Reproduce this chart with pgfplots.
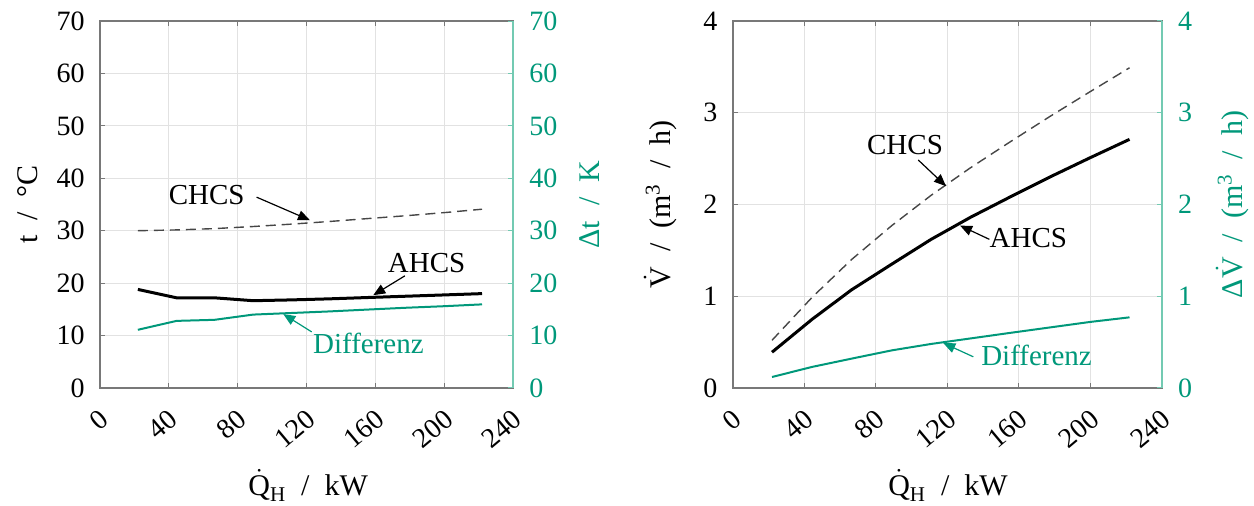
\documentclass[border=0pt]{standalone}
\usepackage{fontspec}
\setmainfont{Liberation Serif}
\usepackage{amsmath}
\usepackage{pgfplots}
\pgfplotsset{compat=1.18}
\usetikzlibrary{arrows.meta}
\definecolor{spine}{RGB}{120,120,120}
\definecolor{gridc}{RGB}{226,226,226}
\definecolor{grn}{RGB}{0,152,122}
\definecolor{grnspine}{RGB}{115,202,178}
\definecolor{dashc}{RGB}{70,70,70}

\tikzset{
  sAhcs/.style={black, line width=1.5pt, line join=round},
  sChcs/.style={dashc, line width=0.7pt, dash pattern=on 5pt off 3pt},
  sDiff/.style={grn, line width=1pt, line join=round},
  arr/.style={-{Triangle[length=6pt,width=5pt]}, line width=0.6pt},
  lab/.style={font=\fontsize{14.5}{16}\selectfont, inner sep=0pt, anchor=center},
}
\pgfplotsset{
  base/.style={
    scale only axis, anchor=south west, height=183.5pt,
    xmin=0, xmax=240,
    /pgf/number format/assume math mode=true,
    ticklabel style={font=\fontsize{14}{16}\selectfont},
    label style={font=\fontsize{15}{18}\selectfont},
    tick align=inside, major tick length=2.5pt,
  },
  mainax/.style={base,
    xtick={0,40,...,240}, grid=major,
    grid style={gridc, line width=0.5pt},
    axis line style={spine, line width=1pt},
    tick style={spine, line width=0.5pt},
    ytick pos=left,
    xticklabel style={inner sep=0pt, yshift=-13.5pt, xshift=2.5pt, rotate=40, anchor=east},
    yticklabel style={inner sep=0pt, xshift=-7.5pt},
    xlabel={$\dot{\text{Q}}_{\text{H}}$\enspace/\enspace kW},
    xlabel style={at={(axis description cs:0.504,-0.266)}, anchor=center},
  },
  twinax/.style={base,
    axis x line=none, axis y line*=right,
    y axis line style={grnspine, line width=1pt},
    ytick style={grnspine, line width=0.5pt},
    yticklabel style={grn, inner sep=0pt, xshift=8pt},
    ylabel style={grn, anchor=center},
  },
}

\begin{document}
\begin{tikzpicture}
\useasboundingbox (0,0) rectangle (627pt,253pt);

% left: temperatures
\begin{axis}[mainax, at={(50pt,59pt)}, width=206.5pt,
  ymin=0, ymax=70, ytick={0,10,...,70},
  ylabel={t\enspace/\enspace°C},
  ylabel style={at={(axis description cs:-0.174,0.5)}, anchor=center},
]
\addplot[sChcs] coordinates {(22,30.0) (44.5,30.15) (66.5,30.4) (89,30.8) (111,31.25) (133,31.75) (155,32.3) (177.5,32.85) (200,33.45) (222,34.1)};
\addplot[sAhcs] coordinates {(22,18.8) (44.5,17.2) (66.5,17.2) (89,16.65) (111,16.8) (133,17.0) (155,17.25) (177.5,17.5) (200,17.75) (222,18.0)};
\addplot[sDiff] coordinates {(22,11.1) (44.5,12.8) (66.5,13.0) (89,14.0) (111,14.3) (133,14.6) (155,14.95) (177.5,15.3) (200,15.6) (222,15.95)};
\node[lab] at (axis cs:62,36.8) {CHCS};
\draw[arr] (axis cs:91,36.4) -- (axis cs:122,32.0);
\node[lab] at (axis cs:189.8,23.8) {AHCS};
\draw[arr] (axis cs:177.2,21.4) -- (axis cs:158.8,17.7);
\node[lab, grn] at (axis cs:156,8.5) {Differenz};
\draw[arr, grn] (axis cs:123,10.7) -- (axis cs:106.5,14.1);
\end{axis}
\begin{axis}[twinax, at={(50pt,59pt)}, width=206.5pt,
  ymin=0, ymax=70, ytick={0,10,...,70},
  ylabel={Δt\enspace/\enspace K},
  ylabel style={at={(axis description cs:1.186,0.5)}},
]
\end{axis}

% right: volume flows
\begin{axis}[mainax, at={(366.35pt,59pt)}, width=214.5pt,
  ymin=0, ymax=4, ytick={0,1,...,4},
  ylabel={$\dot{\text{V}}$\enspace/\enspace(m\textsuperscript{3}\enspace/\enspace h)},
  ylabel style={at={(axis description cs:-0.169,0.5)}, anchor=center},
  xlabel style={at={(axis description cs:0.502,-0.266)}},
]
\addplot[sChcs] coordinates {(22,0.52) (44.5,0.99) (66.5,1.40) (89,1.77) (111,2.10) (133,2.40) (155,2.68) (177.5,2.96) (200,3.23) (222,3.49)};
\addplot[sAhcs] coordinates {(22,0.39) (44.5,0.75) (66.5,1.07) (89,1.35) (111,1.62) (133,1.86) (155,2.08) (177.5,2.30) (200,2.51) (222,2.71)};
\addplot[sDiff] coordinates {(22,0.12) (44.5,0.23) (66.5,0.32) (89,0.41) (111,0.48) (133,0.54) (155,0.60) (177.5,0.66) (200,0.72) (222,0.77)};
\node[lab] at (axis cs:96.4,2.65) {CHCS};
\draw[arr] (axis cs:103.8,2.485) -- (axis cs:119.3,2.20);
\node[lab] at (axis cs:165.4,1.63) {AHCS};
\draw[arr] (axis cs:143.6,1.62) -- (axis cs:127.2,1.77);
\node[lab, grn] at (axis cs:170,0.36) {Differenz};
\draw[arr, grn] (axis cs:134.6,0.34) -- (axis cs:117.8,0.49);
\end{axis}
\begin{axis}[twinax, at={(366.35pt,59pt)}, width=214.5pt,
  ymin=0, ymax=4, ytick={0,1,...,4},
  ylabel={Δ$\dot{\text{V}}$\enspace/\enspace(m\textsuperscript{3}\enspace/\enspace h)},
  ylabel style={at={(axis description cs:1.164,0.5)}},
]
\end{axis}
\end{tikzpicture}
\end{document}
